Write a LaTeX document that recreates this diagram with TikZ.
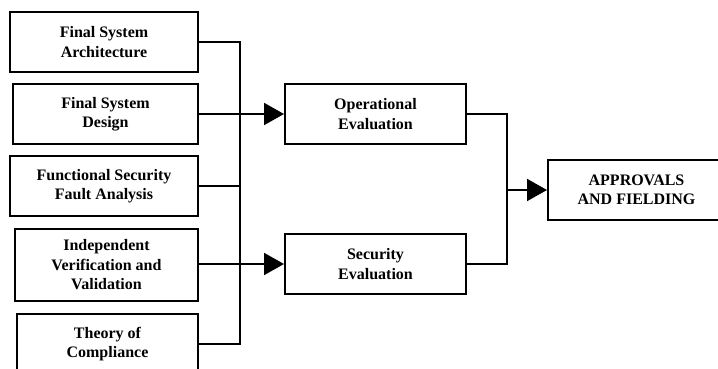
\documentclass[tikz,border=0pt]{standalone}
\usepackage{fontspec}
\setmainfont{Liberation Serif}
\usepackage{tikz}
\usetikzlibrary{arrows.meta,positioning}

\begin{document}
\begin{tikzpicture}[
  x=1pt, y=-1pt,
  font=\bfseries\fontsize{16}{19.5}\selectfont,
  blk/.style={draw=black, line width=2pt, fill=white, align=center,
    inner sep=2pt},
  wire/.style={line width=2pt, black},
  flow/.style={-{Triangle[length=20pt, width=22pt]}, line width=2pt, black}
]
\useasboundingbox (0,0) rectangle (718,369);
% inputs
\node[blk, minimum width=188pt, minimum height=60pt] (arch) at (104,42) {Final System\\Architecture};
\node[blk, minimum width=185pt, minimum height=60pt] (design) at (105.5,114) {Final System\\Design};
\node[blk, minimum width=188pt, minimum height=60pt] (fsfa) at (104,186) {Functional Security\\Fault Analysis};
\node[blk, minimum width=183pt, minimum height=72pt] (ivv) at (106.5,265) {Independent\\Verification and\\Validation};
\node[blk, minimum width=181pt, minimum height=60pt] (toc) at (107.5,344) {Theory of\\Compliance};
% evaluations
\node[blk, minimum width=181pt, minimum height=60pt] (opeval) at (375.5,114) {Operational\\Evaluation};
\node[blk, minimum width=181pt, minimum height=60pt] (seceval) at (375.5,264) {Security\\Evaluation};
\node[blk, minimum width=177pt, minimum height=60pt] (approv) at (636.5,190) {APPROVALS\\AND FIELDING};
\coordinate (bus) at (240,0);
\coordinate (rbus) at (507,0);
\draw[wire] (arch.east) -| (bus |- toc.east) -- (toc.east);
\draw[wire] (design.east) -- (bus |- design.east);
\draw[wire] (fsfa.east) -- (bus |- fsfa.east);
\draw[wire] (ivv.east |- seceval.west) -- (bus |- seceval.west);
\draw[flow] (bus |- opeval.west) -- (opeval.west);
\draw[flow] (bus |- seceval.west) -- (seceval.west);
\draw[wire] (opeval.east) -| (rbus |- seceval.east) -- (seceval.east);
\draw[flow] (rbus |- approv.west) -- (approv.west);
\end{tikzpicture}
\end{document}
